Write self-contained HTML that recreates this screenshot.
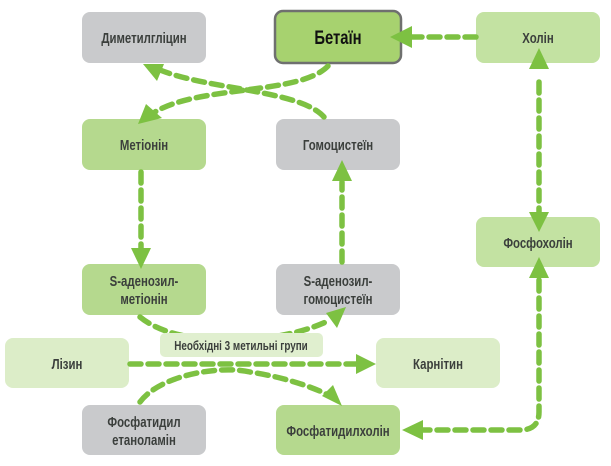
<!DOCTYPE html>
<html><head><meta charset="utf-8"><style>
html,body{margin:0;padding:0;background:#fff;width:611px;height:466px;overflow:hidden}
svg text{font-family:"Liberation Sans",sans-serif;font-weight:bold;fill:#3b3f3c;font-size:15px;text-anchor:middle}
</style></head><body>
<svg width="611" height="466" viewBox="0 0 611 466" xmlns="http://www.w3.org/2000/svg">
<g>
<rect x="82" y="12" width="124" height="51" rx="8" fill="#c9cacc"/>
<rect x="275" y="11" width="126" height="52" rx="8" fill="#a7d26f" stroke="#6f706f" stroke-width="2.5"/>
<rect x="476" y="12" width="124" height="51" rx="8" fill="#c3e2a2"/>
<rect x="82" y="119" width="124" height="51" rx="8" fill="#b5d98e"/>
<rect x="276" y="119" width="124" height="51" rx="8" fill="#c9cacc"/>
<rect x="476" y="217" width="124" height="50" rx="8" fill="#c3e2a2"/>
<rect x="82" y="264" width="124" height="51" rx="8" fill="#b5d98e"/>
<rect x="276" y="264" width="124" height="51" rx="8" fill="#c9cacc"/>
<rect x="5" y="338" width="124" height="50" rx="8" fill="#dcedc8"/>
<rect x="376" y="338" width="124" height="50" rx="8" fill="#dcedc8"/>
<rect x="82" y="405" width="124" height="50" rx="8" fill="#c9cacc"/>
<rect x="276" y="405" width="124" height="50" rx="8" fill="#b5d98e"/>
</g>
<g fill="none" stroke="#7dc142" stroke-width="5.5" stroke-dasharray="11 7" stroke-linecap="round">
<path d="M476 37 L412 37"/>
<path d="M328 66 C300 95 200 85 155 112"/>
<path d="M324 117 C300 90 210 90 160 70"/>
<path d="M141 172 L141 250"/>
<path d="M342 262 L342 182"/>
<path d="M539 82 L539 212"/>
<path d="M539 280 L539 412 Q539 430 520 430 L420 430"/>
<path d="M140 317 C180 350 280 345 330 320"/>
<path d="M130 364 L360 364"/>
<path d="M140 402 C160 375 220 365 250 372 C290 378 320 390 334 398"/>
</g>
<g fill="#7dc142">
<polygon points="390,37 412,26 412,48"/>
<polygon points="138,124 146,104 162,118"/>
<polygon points="143,64 164,64 157,81"/>
<polygon points="141,269 131,248 151,248"/>
<polygon points="342,160 332,181 352,181"/>
<polygon points="539,48 529,69 549,69"/>
<polygon points="539,232 529,212 549,212"/>
<polygon points="539,257 529,278 549,278"/>
<polygon points="402,430 423,420 423,440"/>
<polygon points="346,307 326,313 337,328"/>
<polygon points="376,364 356,354 356,374"/>
<polygon points="342,406 322,396 333,385"/>
</g>
<rect x="160" y="333" width="163" height="24" rx="5" fill="#e0efcf"/>
<text transform="translate(144,43) scale(0.76,1)">Диметилгліцин</text>
<text transform="translate(338,44) scale(0.78,1)" style="font-size:19px;fill:#111">Бетаїн</text>
<text transform="translate(538,43) scale(0.76,1)">Холін</text>
<text transform="translate(144,150) scale(0.76,1)">Метіонін</text>
<text transform="translate(338,150) scale(0.76,1)">Гомоцистеїн</text>
<text transform="translate(538,248) scale(0.76,1)">Фосфохолін</text>
<text transform="translate(144,286) scale(0.76,1)">S-аденозил-</text>
<text transform="translate(144,304) scale(0.76,1)">метіонін</text>
<text transform="translate(338,286) scale(0.76,1)">S-аденозил-</text>
<text transform="translate(338,304) scale(0.76,1)">гомоцистеїн</text>
<text transform="translate(241,350) scale(0.76,1)" style="font-size:13px">Необхідні 3 метильні групи</text>
<text transform="translate(67,369) scale(0.76,1)">Лізин</text>
<text transform="translate(438,369) scale(0.76,1)">Карнітин</text>
<text transform="translate(144,427) scale(0.76,1)">Фосфатидил</text>
<text transform="translate(144,445) scale(0.76,1)">етаноламін</text>
<text transform="translate(338,436) scale(0.76,1)">Фосфатидилхолін</text>
</svg>
</body></html>
